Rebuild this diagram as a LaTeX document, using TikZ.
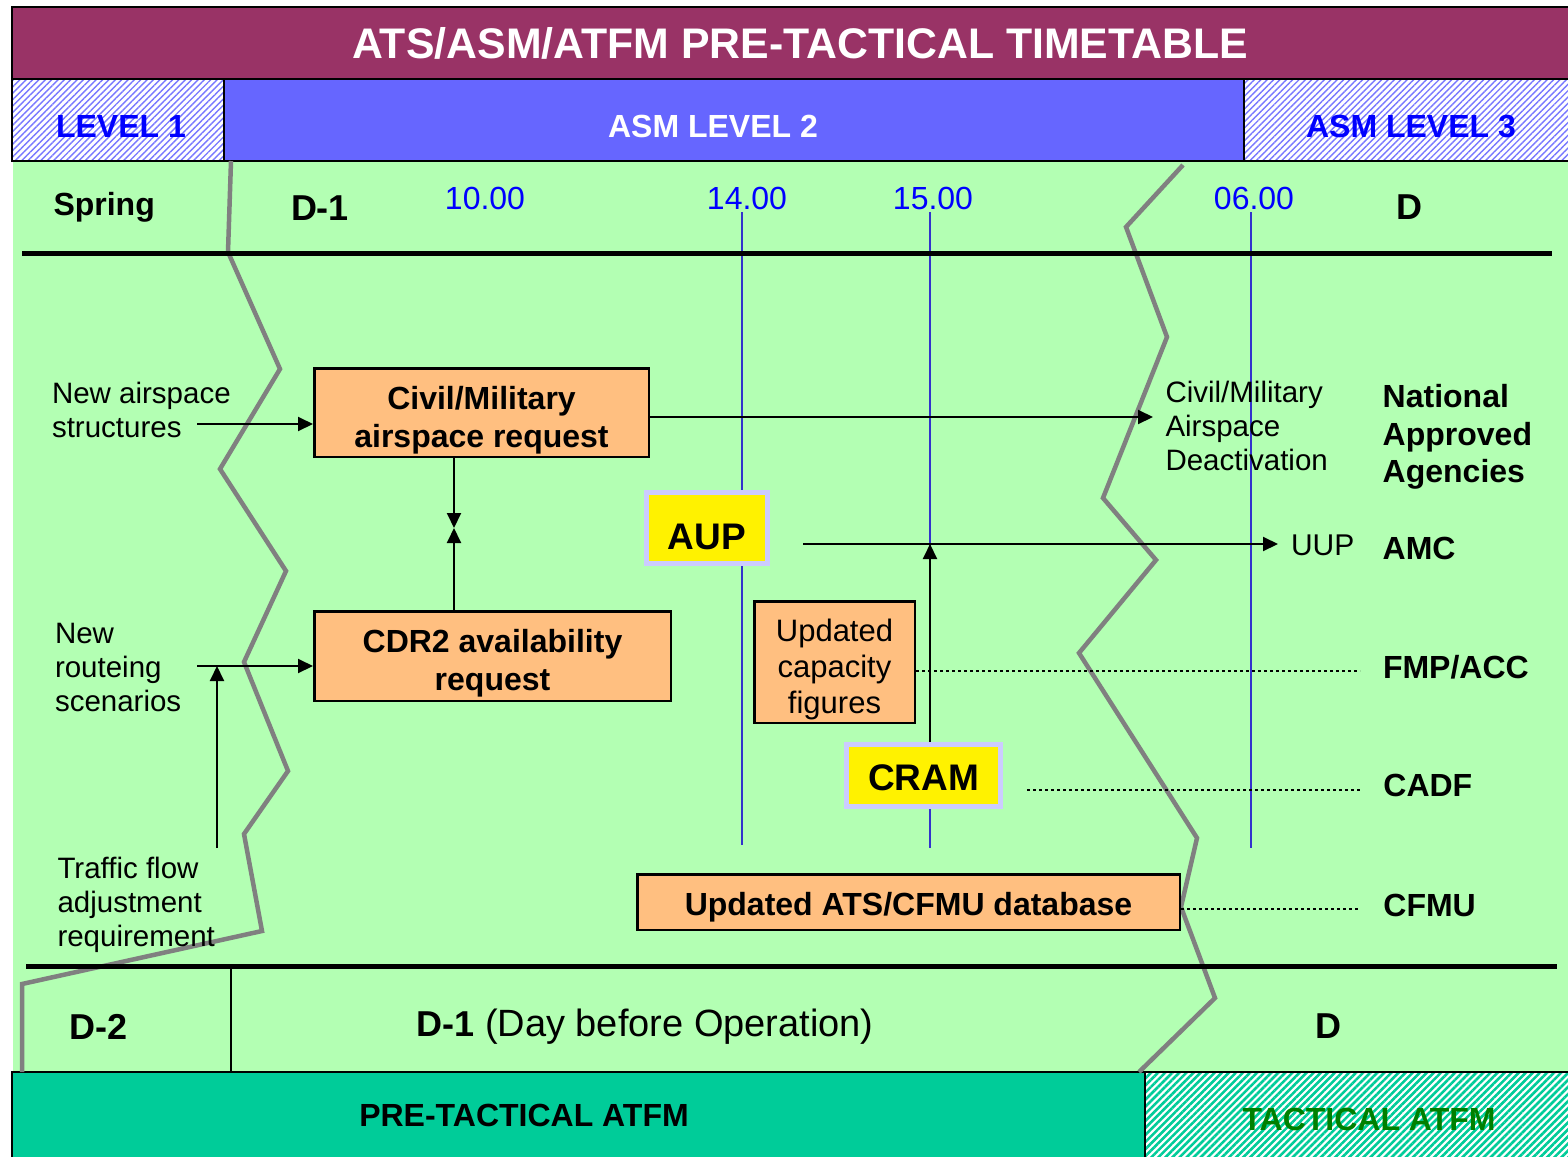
\documentclass[tikz,border=0pt]{standalone}
\usepackage{fontspec}
\setmainfont{Liberation Sans}
\usetikzlibrary{arrows.meta,patterns.meta}
\definecolor{titlec}{RGB}{153,51,102}
\definecolor{lev2}{RGB}{102,102,255}
\definecolor{hatchb}{RGB}{120,120,255}
\definecolor{bgg}{RGB}{179,255,179}
\definecolor{orangebox}{RGB}{255,191,128}
\definecolor{lav}{RGB}{204,204,255}
\definecolor{tealc}{RGB}{0,204,153}
\definecolor{tgreen}{RGB}{0,128,0}
\definecolor{vblue}{RGB}{51,51,204}
\definecolor{zgray}{RGB}{128,128,128}
\definecolor{labblue}{RGB}{0,0,255}
\newcommand\fsz[2]{\fontsize{#1pt}{#2pt}\selectfont}
\tikzset{
  txt/.style={inner sep=0pt, outer sep=0pt},
  obox/.style={draw=black, line width=2.5pt, fill=orangebox, inner sep=0pt},
  ybox/.style={draw=lav, line width=5pt, fill=yellow, inner sep=0pt},
  arr/.style={line width=2pt, -{Triangle[length=15pt,width=14pt]}},
  zig/.style={draw=zgray, line width=4.5pt},
  vline/.style={draw=vblue, line width=2.5pt},
  sepline/.style={line width=5pt},
  dotl/.style={line width=2.5pt, dash pattern=on 2.5pt off 3.5pt},
  hatchbl/.style={preaction={fill=white}, pattern={Lines[angle=45,distance=4.5pt,line width=1.4pt]}, pattern color=hatchb},
  hatcht/.style={preaction={fill=white}, pattern={Lines[angle=45,distance=5pt,line width=2.6pt]}, pattern color=tealc},
  boldlab/.style={txt, font=\fsz{32}{38}\bfseries},
  reglab/.style={txt, font=\fsz{29.5}{34}},
}
\begin{document}
\begin{tikzpicture}[x=1pt,y=-1pt]
\useasboundingbox (0,0) rectangle (1568,1156);
\fill[white] (0,0) rectangle (1568,1156);
% backgrounds
\fill[bgg] (13,161) rectangle (1568,1072);
\draw[line width=2pt, fill=titlec] (12,7) rectangle (1574,79);
\draw[line width=2pt, hatchbl] (12,79) rectangle (224,161);
\draw[line width=2pt, fill=lev2] (224,79) rectangle (1244,161);
\draw[line width=2pt, hatchbl] (1244,79) rectangle (1574,161);
\draw[line width=2pt, fill=tealc] (12,1072) rectangle (1145,1162);
\draw[line width=2pt, hatcht] (1145,1072) rectangle (1574,1162);

% zigzag boundaries
\draw[zig] (231,161) -- (228,252) -- (280,369) -- (220,469) -- (286,571) -- (244,662) -- (288,771) -- (244,834) -- (262,931) -- (22,984) -- (22,1072);
\draw[zig] (1183,165) -- (1126,227) -- (1167,337) -- (1103,498) -- (1156,560) -- (1079,653) -- (1197,838) -- (1181,907) -- (1215,998) -- (1139,1072);

% time lines
\draw[vline] (742,212) -- (742,845);
\draw[vline] (930,212) -- (930,848);
\draw[vline] (1251,212) -- (1251,848);

% separators
\draw[sepline] (22,253) -- (1552,253);
\draw[sepline] (26,966) -- (1557,966);
\draw[line width=2pt] (231,966) -- (231,1072);

% title and header texts
\node[txt, anchor=base, text=white, font=\fsz{42.8}{48}\bfseries] (title) at (800,58.4) {ATS/ASM/ATFM PRE-TACTICAL TIMETABLE};
\node[txt, anchor=base, text=labblue, font=\fsz{32}{38}\bfseries] (lev1) at (121,137.5) {LEVEL 1};
\node[txt, anchor=base, text=white, font=\fsz{32}{38}\bfseries] (lev2t) at (713,137.5) {ASM LEVEL 2};
\node[txt, anchor=base, text=labblue, font=\fsz{32}{38}\bfseries] (lev3) at (1411,137) {ASM LEVEL 3};
\node[txt, anchor=base west, font=\fsz{32}{38}\bfseries] (spring) at (53.5,215.5) {Spring};
\node[txt, anchor=base, font=\fsz{36}{40}\bfseries] (d1top) at (320,220.4) {D-1};
\node[txt, anchor=base, text=labblue, font=\fsz{32}{38}] (t10) at (485,209.5) {10.00};
\node[txt, anchor=base, text=labblue, font=\fsz{32}{38}] (t14) at (747,209.5) {14.00};
\node[txt, anchor=base, text=labblue, font=\fsz{32}{38}] (t15) at (933,209.5) {15.00};
\node[txt, anchor=base, text=labblue, font=\fsz{32}{38}] (t06) at (1254,209) {06.00};
\node[txt, anchor=base, font=\fsz{36}{40}\bfseries] (dtop) at (1409,219) {D};

% boxes
\node[obox, minimum width=334.5pt, minimum height=88.5pt] (civ) at (481.5,412.5) {};
\node[obox, minimum width=356.5pt, minimum height=89.5pt] (cdr) at (492.5,656) {};
\node[obox, minimum width=160.5pt, minimum height=121.5pt] (cap) at (834.5,662) {};
\node[obox, minimum width=542.5pt, minimum height=55.5pt] (db) at (908.5,902) {};

% coordinates for free ends
\coordinate (a1s) at (197,424);
\coordinate (a2s) at (197,666);
\coordinate (tfs) at (217,848);
\coordinate (tfj) at (217,666);
\coordinate (meet) at (454,528);
\coordinate (civend) at (1153,417);
\coordinate (uupl) at (803,544);
\coordinate (uupr) at (1278,544);
\coordinate (crtip) at (930,544);
\coordinate (fmpe) at (1360,671);
\coordinate (cadfs) at (1027,790);
\coordinate (cadfe) at (1360,790);
\coordinate (cfmue) at (1360,909);

% connectors
\draw[arr] (a1s) -- (a1s -| civ.west);
\draw[arr] (a2s) -- (a2s -| cdr.west);
\draw[arr] (tfs) -- (tfj);
\draw[arr] (civ.east |- civend) -- (civend);
\draw[arr] (civ.south -| meet) -- (meet);
\draw[arr] (cdr.north -| meet) -- (meet);
\draw[arr] (uupl) -- (uupr);
\draw[dotl] (cap.east |- fmpe) -- (fmpe);
\draw[dotl] (cadfs) -- (cadfe);
\draw[dotl] (db.east |- cfmue) -- (cfmue);

% yellow boxes
\node[ybox, minimum width=121pt, minimum height=71pt] (aup) at (707,528) {};
\node[ybox, minimum width=154pt, minimum height=62pt] (cram) at (923.5,775.5) {};
\draw[arr] (cram.north -| crtip) -- (crtip);

% box texts
\node[boldlab, align=center, anchor=north] (civt) at (481.5,386) {Civil/Military\\airspace request};
\node[boldlab, align=center, anchor=north] (cdrt) at (492.5,629.5) {CDR2 availability\\request};
\node[txt, align=center, anchor=north, font=\fsz{31}{36}] (capt) at (834.5,619) {Updated\\capacity\\figures};
\node[boldlab, anchor=base] (dbt) at (908.5,915.5) {Updated ATS/CFMU database};
\node[txt, anchor=base, font=\fsz{37}{42}\bfseries] (aupt) at (707,549.2) {AUP};
\node[txt, anchor=base, font=\fsz{37}{42}\bfseries] (cramt) at (923.5,790.7) {CRAM};

% left labels
\node[reglab, align=left, anchor=north west] (nas) at (52,382) {New airspace\\structures};
\node[reglab, align=left, anchor=north west] (nrs) at (55,623.4) {New\\routeing\\scenarios};
\node[reglab, align=left, anchor=north west] (tfa) at (57.5,857) {Traffic flow\\adjustment\\requirement};

% right labels
\node[reglab, align=left, anchor=north west] (cmad) at (1165.5,381.4) {Civil/Military\\Airspace\\Deactivation};
\node[txt, anchor=base west, font=\fsz{30}{34}] (uup) at (1291,555.7) {UUP};
\node[txt, align=left, anchor=north west, font=\fsz{32}{37.5}\bfseries] (nat) at (1382.7,384.5) {National\\Approved\\Agencies};
\node[boldlab, anchor=base west] (amc) at (1382.7,559.5) {AMC};
\node[boldlab, anchor=base west] (fmp) at (1383,678.5) {FMP/ACC};
\node[boldlab, anchor=base west] (cadf) at (1383.4,796) {CADF};
\node[boldlab, anchor=base west] (cfmu) at (1383.4,916) {CFMU};

% bottom row
\node[txt, anchor=base, font=\fsz{36}{40}\bfseries] (d2) at (99,1039) {D-2};
\node[txt, anchor=base west, font=\fsz{38}{40}] (d1bot) at (416.5,1036) {{\bfseries\fsz{36}{40}D-1} (Day before Operation)};
\node[txt, anchor=base, font=\fsz{36}{40}\bfseries] (dbot) at (1328,1038) {D};
\node[txt, anchor=base, font=\fsz{32}{36}\bfseries] (pre) at (524,1126.5) {PRE-TACTICAL ATFM};
\node[txt, anchor=base, text=tgreen, font=\fsz{32}{36}\bfseries] (tac) at (1369,1130) {TACTICAL ATFM};
\end{tikzpicture}
\end{document}
